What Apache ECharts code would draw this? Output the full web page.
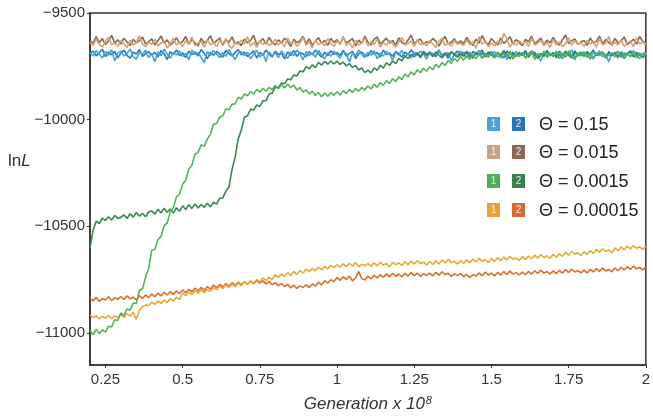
<!DOCTYPE html>
<html>
<head>
<meta charset="utf-8">
<script src="https://cdn.jsdelivr.net/npm/echarts@6/dist/echarts.min.js"></script>
<style>
html,body{margin:0;padding:0;background:#fff;}
#chart{width:653px;height:419px;}
</style>
</head>
<body>
<div id="chart"></div>
<script>
// Generation axis (x 10^8), sampled every 0.01 from 0.20 to 2.00
const generations = [];
for (let i = 0; i <= 180; i++) generations.push(Math.round(20 + i) / 100);

const xTicks = [0.25, 0.5, 0.75, 1, 1.25, 1.5, 1.75, 2];
const yTicks = [-11000, -10500, -10000, -9500];
const thetaLabels = ['\u0398 = 0.15', '\u0398 = 0.015', '\u0398 = 0.0015', '\u0398 = 0.00015'];

// Θ = 0.15
const theta015_run1 = [
-9685,-9702,-9676,-9694,-9711,-9680,-9698,-9672,-9725,-9688,
-9679,-9701,-9690,-9668,-9705,-9716,-9683,-9695,-9674,-9709,
-9691,-9728,-9682,-9700,-9670,-9693,-9712,-9684,-9697,-9677,
-9704,-9689,-9719,-9673,-9695,-9686,-9708,-9733,-9681,-9699,
-9676,-9692,-9710,-9685,-9703,-9671,-9697,-9718,-9688,-9680,
-9700,-9684,-9715,-9693,-9675,-9706,-9689,-9727,-9682,-9698,
-9687,-9709,-9678,-9696,-9713,-9683,-9700,-9674,-9692,-9720,
-9681,-9699,-9688,-9707,-9676,-9694,-9716,-9685,-9703,-9679,
-9696,-9712,-9682,-9690,-9730,-9687,-9701,-9673,-9695,-9709,
-9684,-9698,-9677,-9714,-9689,-9702,-9680,-9693,-9721,-9686,
-9697,-9675,-9706,-9688,-9711,-9683,-9699,-9679,-9692,-9716,
-9682,-9701,-9690,-9672,-9708,-9694,-9685,-9724,-9689,-9698,
-9678,-9695,-9710,-9684,-9702,-9691,-9676,-9713,-9687,-9700,
-9693,-9681,-9707,-9696,-9674,-9719,-9688,-9703,-9680,-9697,
-9686,-9712,-9690,-9677,-9701,-9694,-9726,-9683,-9699,-9688,
-9705,-9679,-9695,-9715,-9684,-9698,-9673,-9709,-9691,-9682,
-9700,-9688,-9717,-9685,-9696,-9677,-9704,-9692,-9729,-9686,
-9694,-9711,-9681,-9699,-9687,-9706,-9675,-9697,-9714,-9690,
-9688];
const theta015_run2 = [
-9692,-9678,-9701,-9686,-9670,-9705,-9683,-9696,-9680,-9710,
-9688,-9674,-9699,-9712,-9684,-9693,-9671,-9703,-9690,-9681,
-9697,-9685,-9706,-9676,-9691,-9718,-9682,-9694,-9673,-9700,
-9687,-9709,-9679,-9695,-9683,-9702,-9671,-9690,-9714,-9684,
-9698,-9680,-9693,-9707,-9675,-9689,-9701,-9686,-9672,-9696,
-9683,-9704,-9690,-9678,-9711,-9685,-9697,-9674,-9692,-9706,
-9679,-9694,-9688,-9715,-9682,-9699,-9676,-9703,-9687,-9691,
-9705,-9681,-9696,-9673,-9690,-9708,-9684,-9700,-9677,-9693,
-9686,-9699,-9675,-9702,-9689,-9680,-9713,-9691,-9683,-9697,
-9701,-9677,-9692,-9685,-9706,-9674,-9695,-9688,-9703,-9681,
-9690,-9708,-9683,-9697,-9672,-9693,-9686,-9710,-9679,-9695,
-9684,-9691,-9705,-9676,-9699,-9687,-9712,-9682,-9694,-9678,
-9698,-9685,-9690,-9707,-9680,-9696,-9688,-9674,-9703,-9692,
-9681,-9702,-9686,-9695,-9711,-9678,-9693,-9684,-9700,-9689,
-9696,-9676,-9704,-9688,-9683,-9709,-9691,-9698,-9675,-9701,
-9687,-9699,-9680,-9694,-9706,-9685,-9702,-9678,-9697,-9690,
-9683,-9705,-9692,-9674,-9700,-9689,-9686,-9712,-9681,-9698,
-9693,-9680,-9707,-9688,-9696,-9677,-9703,-9684,-9699,-9691,
-9686];

// Θ = 0.015
const theta0015_run1 = [
-9638,-9652,-9621,-9647,-9660,-9633,-9615,-9649,-9641,-9656,
-9630,-9644,-9662,-9627,-9651,-9639,-9608,-9646,-9658,-9635,
-9648,-9624,-9655,-9640,-9632,-9664,-9643,-9618,-9650,-9637,
-9657,-9629,-9646,-9612,-9653,-9641,-9634,-9660,-9625,-9649,
-9639,-9658,-9631,-9645,-9619,-9652,-9666,-9636,-9648,-9627,
-9644,-9610,-9655,-9638,-9661,-9628,-9647,-9633,-9654,-9642,
-9623,-9650,-9637,-9659,-9616,-9645,-9632,-9656,-9640,-9613,
-9651,-9635,-9662,-9626,-9648,-9639,-9654,-9620,-9643,-9657,
-9631,-9646,-9609,-9653,-9638,-9663,-9629,-9649,-9642,-9617,
-9655,-9634,-9647,-9622,-9659,-9640,-9651,-9628,-9645,-9660,
-9636,-9614,-9650,-9643,-9632,-9657,-9625,-9648,-9639,-9654,
-9628,-9645,-9661,-9633,-9618,-9652,-9641,-9656,-9630,-9647,
-9642,-9653,-9626,-9649,-9637,-9665,-9612,-9646,-9634,-9658,
-9640,-9655,-9631,-9648,-9596,-9622,-9660,-9637,-9651,-9629,
-9646,-9633,-9657,-9619,-9650,-9641,-9627,-9654,-9638,-9662,
-9624,-9649,-9636,-9659,-9643,-9615,-9652,-9630,-9647,-9639,
-9656,-9628,-9645,-9634,-9661,-9621,-9649,-9642,-9611,-9653,
-9637,-9650,-9626,-9657,-9640,-9632,-9658,-9617,-9646,-9635,
-9648];
const theta0015_run2 = [
-9627,-9643,-9611,-9639,-9620,-9648,-9632,-9605,-9641,-9625,
-9646,-9618,-9636,-9652,-9623,-9640,-9629,-9613,-9645,-9634,
-9621,-9649,-9630,-9607,-9642,-9626,-9651,-9637,-9616,-9644,
-9633,-9610,-9647,-9624,-9639,-9655,-9619,-9641,-9628,-9606,
-9644,-9631,-9617,-9650,-9625,-9638,-9612,-9646,-9635,-9653,
-9622,-9640,-9629,-9604,-9648,-9636,-9620,-9645,-9614,-9637,
-9649,-9626,-9641,-9618,-9634,-9657,-9623,-9639,-9630,-9609,
-9643,-9621,-9650,-9632,-9615,-9644,-9628,-9652,-9619,-9638,
-9625,-9647,-9613,-9640,-9631,-9620,-9654,-9627,-9642,-9608,
-9636,-9650,-9624,-9612,-9645,-9633,-9618,-9641,-9629,-9651,
-9616,-9639,-9648,-9626,-9604,-9643,-9630,-9622,-9647,-9635,
-9640,-9619,-9633,-9655,-9628,-9610,-9646,-9637,-9621,-9644,
-9631,-9645,-9614,-9638,-9652,-9623,-9641,-9606,-9634,-9648,
-9620,-9637,-9650,-9617,-9642,-9629,-9611,-9646,-9625,-9639,
-9653,-9624,-9635,-9609,-9644,-9632,-9618,-9649,-9627,-9640,
-9614,-9638,-9651,-9625,-9603,-9643,-9630,-9621,-9647,-9636,
-9629,-9652,-9617,-9640,-9633,-9608,-9645,-9624,-9638,-9650,
-9619,-9642,-9631,-9612,-9648,-9636,-9623,-9646,-9610,-9634,
-9641];

// Θ = 0.0015
const theta00015_run1 = [
-10987,-11008,-10982,-11003,-10985,-10996,-10968,-10972,-10938,-10941,
-10906,-10918,-10887,-10893,-10859,-10862,-10801,-10792,-10738,-10697,
-10612,-10609,-10561,-10548,-10497,-10484,-10431,-10413,-10362,-10349,
-10302,-10284,-10231,-10214,-10162,-10153,-10118,-10124,-10091,-10068,
-10022,-10018,-9987,-9983,-9949,-9954,-9927,-9926,-9895,-9903,
-9879,-9888,-9868,-9880,-9858,-9871,-9853,-9866,-9849,-9859,
-9840,-9855,-9836,-9851,-9833,-9850,-9838,-9861,-9849,-9871,
-9860,-9880,-9866,-9887,-9872,-9893,-9875,-9890,-9873,-9886,
-9869,-9884,-9864,-9878,-9858,-9873,-9853,-9867,-9849,-9861,
-9842,-9856,-9834,-9848,-9826,-9839,-9817,-9830,-9808,-9821,
-9799,-9812,-9787,-9799,-9776,-9790,-9766,-9780,-9759,-9773,
-9752,-9766,-9741,-9755,-9732,-9746,-9722,-9736,-9713,-9727,
-9704,-9721,-9700,-9717,-9696,-9714,-9693,-9711,-9690,-9709,
-9688,-9707,-9683,-9712,-9690,-9701,-9680,-9716,-9693,-9705,
-9685,-9710,-9696,-9681,-9718,-9689,-9703,-9679,-9708,-9692,
-9700,-9684,-9714,-9690,-9705,-9677,-9699,-9720,-9687,-9702,
-9683,-9709,-9694,-9716,-9686,-9701,-9680,-9711,-9697,-9688,
-9706,-9682,-9699,-9713,-9690,-9704,-9684,-9710,-9693,-9700,
-9689];
const theta00015_run2 = [
-10601,-10518,-10476,-10487,-10461,-10472,-10455,-10470,-10449,-10463,
-10458,-10446,-10463,-10441,-10457,-10435,-10452,-10439,-10455,-10433,
-10428,-10443,-10420,-10437,-10415,-10434,-10419,-10438,-10413,-10429,
-10404,-10421,-10399,-10416,-10395,-10414,-10398,-10411,-10392,-10409,
-10387,-10396,-10368,-10367,-10336,-10316,-10233,-10176,-10090,-10048,
-9989,-9982,-9950,-9955,-9931,-9937,-9912,-9911,-9880,-9876,
-9847,-9851,-9828,-9832,-9809,-9813,-9791,-9795,-9772,-9776,
-9752,-9761,-9743,-9756,-9731,-9744,-9727,-9740,-9725,-9739,
-9726,-9741,-9730,-9748,-9737,-9755,-9746,-9767,-9758,-9779,
-9768,-9781,-9757,-9769,-9745,-9758,-9733,-9746,-9725,-9737,
-9714,-9724,-9702,-9713,-9694,-9706,-9688,-9703,-9687,-9700,
-9689,-9705,-9683,-9698,-9711,-9688,-9700,-9681,-9696,-9707,
-9690,-9703,-9679,-9697,-9712,-9685,-9699,-9688,-9706,-9682,
-9697,-9710,-9686,-9701,-9680,-9694,-9715,-9689,-9703,-9684,
-9699,-9687,-9708,-9682,-9696,-9713,-9690,-9704,-9681,-9697,
-9686,-9709,-9694,-9701,-9678,-9698,-9711,-9684,-9702,-9690,
-9704,-9680,-9697,-9712,-9688,-9699,-9683,-9707,-9691,-9700,
-9685,-9703,-9690,-9714,-9692,-9681,-9706,-9695,-9688,-9709,
-9694];

// Θ = 0.00015
const theta000015_run1 = [
-10915,-10928,-10919,-10934,-10922,-10931,-10917,-10933,-10921,-10926,
-10914,-10927,-10909,-10921,-10903,-10936,-10895,-10876,-10868,-10872,
-10855,-10866,-10850,-10861,-10845,-10857,-10838,-10850,-10833,-10844,
-10812,-10825,-10808,-10820,-10802,-10814,-10797,-10811,-10795,-10806,
-10786,-10797,-10780,-10792,-10774,-10787,-10770,-10783,-10766,-10779,
-10760,-10772,-10756,-10766,-10749,-10760,-10742,-10755,-10738,-10750,
-10728,-10740,-10723,-10735,-10717,-10730,-10712,-10725,-10707,-10720,
-10700,-10712,-10697,-10709,-10691,-10703,-10687,-10699,-10683,-10694,
-10680,-10692,-10676,-10689,-10673,-10686,-10670,-10690,-10678,-10684,
-10675,-10688,-10671,-10685,-10668,-10682,-10674,-10690,-10669,-10680,
-10671,-10684,-10666,-10680,-10663,-10677,-10660,-10675,-10668,-10681,
-10665,-10679,-10662,-10676,-10658,-10672,-10655,-10670,-10663,-10677,
-10660,-10674,-10657,-10671,-10653,-10667,-10650,-10664,-10657,-10669,
-10651,-10664,-10648,-10661,-10644,-10658,-10641,-10655,-10648,-10660,
-10642,-10656,-10639,-10652,-10635,-10649,-10632,-10646,-10638,-10650,
-10632,-10645,-10628,-10641,-10620,-10636,-10617,-10631,-10624,-10637,
-10619,-10632,-10614,-10627,-10609,-10622,-10605,-10618,-10611,-10624,
-10601,-10614,-10597,-10610,-10593,-10606,-10590,-10603,-10596,-10608,
-10594];
const theta000015_run2 = [
-10836,-10849,-10833,-10852,-10838,-10845,-10830,-10848,-10835,-10842,
-10829,-10843,-10826,-10840,-10832,-10845,-10825,-10838,-10822,-10834,
-10817,-10830,-10813,-10826,-10809,-10822,-10806,-10819,-10803,-10815,
-10798,-10811,-10795,-10807,-10790,-10803,-10786,-10799,-10783,-10794,
-10775,-10788,-10772,-10784,-10768,-10781,-10764,-10777,-10762,-10773,
-10760,-10772,-10757,-10769,-10754,-10766,-10756,-10770,-10759,-10773,
-10764,-10778,-10768,-10783,-10772,-10788,-10776,-10791,-10779,-10786,
-10774,-10787,-10770,-10780,-10762,-10774,-10755,-10766,-10750,-10759,
-10740,-10753,-10737,-10749,-10733,-10756,-10742,-10712,-10745,-10752,
-10733,-10746,-10730,-10742,-10726,-10739,-10723,-10737,-10720,-10734,
-10724,-10737,-10721,-10733,-10717,-10731,-10719,-10735,-10722,-10730,
-10719,-10732,-10716,-10729,-10713,-10727,-10720,-10735,-10723,-10731,
-10722,-10736,-10725,-10740,-10726,-10733,-10718,-10731,-10715,-10728,
-10719,-10732,-10716,-10729,-10712,-10726,-10710,-10724,-10717,-10728,
-10714,-10727,-10711,-10724,-10708,-10721,-10705,-10719,-10712,-10723,
-10709,-10722,-10706,-10719,-10703,-10716,-10700,-10714,-10707,-10718,
-10705,-10718,-10702,-10714,-10698,-10711,-10695,-10709,-10702,-10713,
-10695,-10708,-10692,-10705,-10689,-10702,-10686,-10699,-10693,-10704,
-10691];

const FONT = '"Liberation Sans", Arial, Helvetica, sans-serif';

// line colours and legend chip colours [run1, run2] per Θ
const lineColors = [
  ['#3ea6de', '#2d78b8'],
  ['#d8a36e', '#86694f'],
  ['#56b35c', '#3a8753'],
  ['#eaa935', '#dc6d2c']
];
const chipColors = [
  ['#4aa3d8', '#2b74b5'],
  ['#c9a484', '#8a6a55'],
  ['#4fae5a', '#3a7f4e'],
  ['#e8a23a', '#d66b30']
];

function pairs(vals) { return generations.map((g, i) => [g, vals[i]]); }

const seriesDefs = [
  { name: 'Θ=0.15 run 2', data: theta015_run2, color: lineColors[0][1] },
  { name: 'Θ=0.15 run 1', data: theta015_run1, color: lineColors[0][0] },
  { name: 'Θ=0.00015 run 2', data: theta000015_run2, color: lineColors[3][1] },
  { name: 'Θ=0.00015 run 1', data: theta000015_run1, color: lineColors[3][0] },
  { name: 'Θ=0.0015 run 2', data: theta00015_run2, color: lineColors[2][1] },
  { name: 'Θ=0.0015 run 1', data: theta00015_run1, color: lineColors[2][0] },
  { name: 'Θ=0.015 run 2', data: theta0015_run2, color: lineColors[1][1] },
  { name: 'Θ=0.015 run 1', data: theta0015_run1, color: lineColors[1][0] }
];

// legend graphic
const legendGraphic = [];
const rowY = [124, 152, 181, 210];
for (let r = 0; r < 4; r++) {
  for (let k = 0; k < 2; k++) {
    const x0 = k === 0 ? 487 : 512;
    legendGraphic.push({
      type: 'rect', left: x0, top: rowY[r] - 7,
      shape: { width: 13, height: 14 },
      style: { fill: chipColors[r][k] }, z: 100
    });
    legendGraphic.push({
      type: 'text', x: x0 + 6.5, y: rowY[r],
      style: { text: String(k + 1), fill: 'rgba(255,255,255,0.85)', font: '10px ' + FONT, textAlign: 'center', textVerticalAlign: 'middle' },
      z: 101
    });
  }
  legendGraphic.push({
    type: 'text', x: 539, y: rowY[r] + 1,
    style: { text: thetaLabels[r], fill: '#222', font: '18px ' + FONT, textAlign: 'left', textVerticalAlign: 'middle' },
    z: 101
  });
}

const chart = echarts.init(document.getElementById('chart'), null, { renderer: 'canvas' });
chart.setOption({
  animation: false,
  backgroundColor: '#fff',
  grid: { left: 90, right: 4, top: 13, bottom: 54, show: true, borderColor: '#333', borderWidth: 1.5, containLabel: false },
  xAxis: {
    type: 'value', min: 0.2, max: 2,
    axisLine: { show: true, lineStyle: { color: '#333', width: 1.5 } },
    axisTick: { show: true, length: 3, lineStyle: { color: '#333' }, customValues: xTicks },
    axisLabel: { color: '#333', fontSize: 15, fontFamily: FONT, margin: 7, customValues: xTicks, formatter: v => String(v) },
    splitLine: { show: false },
    name: '{i|Generation x 10}{s|8}',
    nameLocation: 'middle', nameGap: 30,
    nameTextStyle: {
      rich: {
        i: { fontSize: 17, fontStyle: 'italic', fontFamily: FONT, color: '#333' },
        s: { fontSize: 11, fontStyle: 'italic', fontFamily: FONT, color: '#333', verticalAlign: 'top', padding: [0, 0, 8, 1] }
      }
    }
  },
  yAxis: {
    type: 'value', min: -11150, max: -9500,
    axisLine: { show: true, lineStyle: { color: '#333', width: 1.5 } },
    axisTick: { show: true, length: 3, lineStyle: { color: '#333' }, customValues: yTicks },
    axisLabel: { color: '#333', fontSize: 15, fontFamily: FONT, margin: 5, customValues: yTicks, formatter: v => String(v).replace('-', '\u2212') },
    splitLine: { show: false }
  },
  graphic: [
    {
      type: 'text', x: 8, y: 161,
      style: {
        text: '{a|ln}{b|L}', textVerticalAlign: 'middle',
        rich: {
          a: { fontSize: 17, fontFamily: FONT, fill: '#333', color: '#333' },
          b: { fontSize: 17, fontStyle: 'italic', fontFamily: FONT, fill: '#333', color: '#333' }
        }
      }
    }
  ].concat(legendGraphic),
  series: seriesDefs.map(s => ({
    type: 'line', name: s.name, data: pairs(s.data), showSymbol: false, symbol: 'none',
    lineStyle: { color: s.color, width: 1.6 }, itemStyle: { color: s.color }, silent: true
  }))
});
</script>
</body>
</html>
